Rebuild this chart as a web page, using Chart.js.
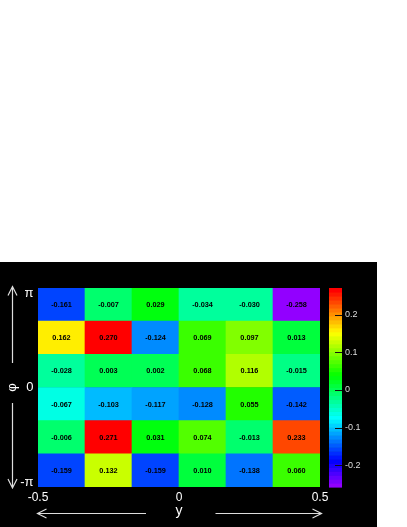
<!DOCTYPE html>
<html><head><meta charset="utf-8">
<script src="https://cdn.jsdelivr.net/npm/chart.js@4.4.0/dist/chart.umd.min.js"></script>
<style>
html,body{margin:0;padding:0;background:#fff;}
#wrap{position:absolute;left:0;top:262px;width:377px;height:265px;}
canvas{display:block;}
</style></head><body>
<div id="wrap"><canvas id="c" width="377" height="265"></canvas></div>
<script>
// bin edges (y along x-axis, phi along y-axis)
const yEdges = [-0.5, -1/3, -1/6, 0, 1/6, 1/3, 0.5];
const phiEdges = [-Math.PI, -2*Math.PI/3, -Math.PI/3, 0, Math.PI/3, 2*Math.PI/3, Math.PI];
// cell values per phi bin (bin 6 = top row ... bin 1 = bottom row), y bins left to right
const phiBin6 = [-0.161, -0.007, 0.029, -0.034, -0.030, -0.258];
const phiBin5 = [0.162, 0.270, -0.124, 0.069, 0.097, 0.013];
const phiBin4 = [-0.028, 0.003, 0.002, 0.068, 0.116, -0.015];
const phiBin3 = [-0.067, -0.103, -0.117, -0.128, 0.055, -0.142];
const phiBin2 = [-0.006, 0.271, 0.031, 0.074, -0.013, 0.233];
const phiBin1 = [-0.159, 0.132, -0.159, 0.010, -0.138, 0.060];
// ticks
const xTickValues = [-0.5, 0, 0.5];
const yTickValues = [-Math.PI, 0, Math.PI];
const yTickLabels = ['-\u03C0', '0', '\u03C0'];
const zTickValues = [-0.2, -0.1, 0, 0.1, 0.2];
const zMin = -0.258, zMax = 0.271;
const nColors = 50;

const FONT = "'Liberation Sans', Arial, Helvetica, sans-serif";

function paletteColor(i) {
  const hue = i >= nColors - 1 ? 0 : 280 - (i + 1) * (280 / nColors);
  return 'hsl(' + hue + ',100%,50%)';
}
function colorFor(v) {
  let i = Math.floor((v - zMin) / (zMax - zMin) * nColors);
  i = Math.max(0, Math.min(nColors - 1, i));
  return paletteColor(i);
}

const rows = [phiBin1, phiBin2, phiBin3, phiBin4, phiBin5, phiBin6];
const datasets = rows.map((vals, k) => ({
  label: 'phi bin ' + (k + 1),
  data: vals.map((v, j) => ({ x: (yEdges[j] + yEdges[j + 1]) / 2, y: [phiEdges[k], phiEdges[k + 1]], v: v })),
  backgroundColor: vals.map(colorFor),
  borderWidth: 0,
  barPercentage: 1,
  categoryPercentage: 1,
  grouped: false,
  yAxisID: 'y',
  xAxisID: 'x'
}));

function arrow(ctx, x1, y1, x2, y2) {
  const ang = Math.atan2(y2 - y1, x2 - x1);
  const L = 9, W = 4.5;
  ctx.beginPath();
  ctx.moveTo(x1, y1); ctx.lineTo(x2, y2);
  const bx = x2 - L * Math.cos(ang), by = y2 - L * Math.sin(ang);
  const px = -Math.sin(ang) * W, py = Math.cos(ang) * W;
  ctx.moveTo(bx + px, by + py); ctx.lineTo(x2, y2); ctx.lineTo(bx - px, by - py);
  ctx.stroke();
}

const deco = {
  id: 'deco',
  beforeDraw(chart) {
    const ctx = chart.ctx;
    ctx.save();
    ctx.fillStyle = '#000';
    ctx.fillRect(0, 0, chart.width, chart.height);
    ctx.restore();
  },
  afterDatasetsDraw(chart) {
    const ctx = chart.ctx;
    ctx.save();
    ctx.fillStyle = '#000';
    ctx.font = 'bold 7.3px ' + FONT;
    ctx.textAlign = 'center';
    ctx.textBaseline = 'middle';
    chart.data.datasets.forEach((ds, k) => {
      const meta = chart.getDatasetMeta(k);
      meta.data.forEach((bar, j) => {
        const cx = bar.x, cy = (bar.y + bar.base) / 2;
        ctx.fillText(ds.data[j].v.toFixed(3), cx, cy + 0.5);
      });
    });
    ctx.restore();
  },
  afterDraw(chart) {
    const ctx = chart.ctx;
    const ca = chart.chartArea;
    const ys = chart.scales.y, zs = chart.scales.z;
    ctx.save();
    // y tick labels (ROOT-style, inner aligned at the ends)
    ctx.fillStyle = '#fff';
    ctx.font = '13px ' + FONT;
    ctx.textAlign = 'right';
    ctx.textBaseline = 'middle';
    const offs = [-5, 0, 5];
    yTickValues.forEach((v, i) => {
      ctx.fillText(yTickLabels[i], ca.left - 4.5, ys.getPixelForValue(v) + offs[i]);
    });
    // arrows
    ctx.strokeStyle = '#ddd';
    ctx.lineWidth = 1.2;
    arrow(ctx, 12.5, 101, 12.5, ca.top - 1.5);
    arrow(ctx, 12.5, 141, 12.5, ca.bottom + 1);
    arrow(ctx, 146, 251.5, 37.5, 251.5);
    arrow(ctx, 215.5, 251.5, 321.5, 251.5);
    // colour bar
    const bx = ca.right + 9, bw = 13;
    for (let i = 0; i < nColors; i++) {
      const v0 = zMin + i * (zMax - zMin) / nColors;
      const v1 = zMin + (i + 1) * (zMax - zMin) / nColors;
      const p0 = zs.getPixelForValue(v0), p1 = zs.getPixelForValue(v1);
      ctx.fillStyle = paletteColor(i);
      ctx.fillRect(bx, p1, bw, p0 - p1 + 0.6);
    }
    ctx.strokeStyle = '#111';
    ctx.lineWidth = 1;
    zTickValues.forEach(v => {
      const p = Math.round(zs.getPixelForValue(v)) + 0.5;
      ctx.beginPath();
      ctx.moveTo(bx + bw - 7, p); ctx.lineTo(bx + bw, p);
      ctx.stroke();
    });
    ctx.restore();
  }
};

new Chart(document.getElementById('c'), {
  type: 'bar',
  data: { datasets: datasets },
  options: {
    responsive: false,
    animation: false,
    devicePixelRatio: 1,
    layout: { padding: { top: 26, left: 0, right: 0, bottom: 0 } },
    plugins: { legend: { display: false }, tooltip: { enabled: false } },
    scales: {
      x: {
        type: 'linear', position: 'bottom', min: -0.5, max: 0.5, offset: false,
        grid: { display: false, drawTicks: false }, border: { display: false },
        afterBuildTicks: s => { s.ticks = xTickValues.map(v => ({ value: v })); },
        afterFit: s => { s.height = 40; },
        ticks: { color: '#fff', font: { family: FONT, size: 12 }, padding: 3, maxRotation: 0,
                 callback: v => String(v) },
        title: { display: true, text: 'y', color: '#fff', font: { family: FONT, size: 14 }, padding: { top: 0, bottom: 7 } }
      },
      y: {
        type: 'linear', position: 'left', min: -Math.PI, max: Math.PI,
        grid: { display: false, drawTicks: false }, border: { display: false },
        ticks: { display: false },
        afterFit: s => { s.width = 38; },
        title: { display: true, text: '\u03C6', color: '#fff', font: { family: FONT, size: 13 }, padding: { top: 5, bottom: 0 } }
      },
      z: {
        type: 'linear', position: 'right', min: zMin, max: zMax,
        grid: { display: false, drawTicks: true, tickLength: 22 }, border: { display: false },
        afterBuildTicks: s => { s.ticks = zTickValues.map(v => ({ value: v })); },
        afterFit: s => { s.width = 57; },
        ticks: { color: '#ddd', font: { family: FONT, size: 9 }, padding: 3,
                 callback: v => String(Math.round(v * 10) / 10) }
      }
    }
  },
  plugins: [deco]
});
</script>
</body></html>
